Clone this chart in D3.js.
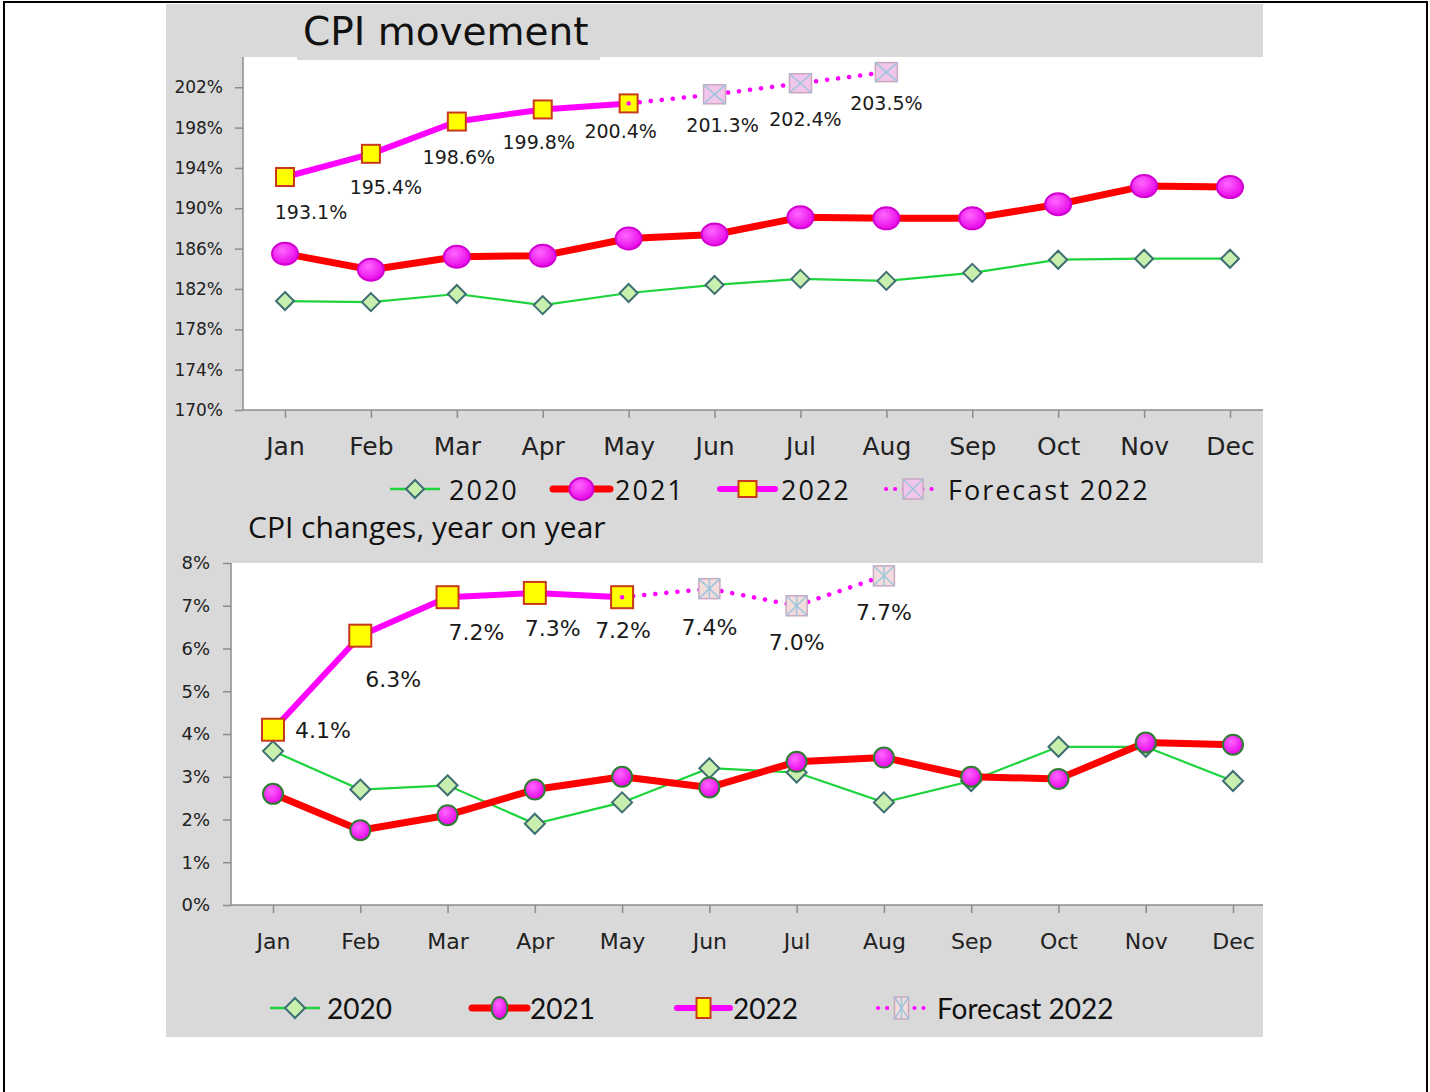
<!DOCTYPE html>
<html><head><meta charset="utf-8">
<script src="https://cdn.jsdelivr.net/npm/d3@7"></script>
<style>body{margin:0;background:#fff}svg{display:block}</style>
</head><body>
<svg id="c" width="1430" height="1092"></svg>
<script>
// ---- data ----
const months = ["Jan","Feb","Mar","Apr","May","Jun","Jul","Aug","Sep","Oct","Nov","Dec"];
const seriesNames = ["2020","2021","2022","Forecast 2022"];

const cpi2020 = [180.8,180.7,181.5,180.4,181.6,182.4,183.0,182.8,183.6,184.9,185.0,185.0];
const cpi2021 = [185.5,183.9,185.2,185.3,187.0,187.4,189.1,189.0,189.0,190.4,192.2,192.1];
const cpi2022 = [193.1,195.4,198.6,199.8,200.4,null,null,null,null,null,null,null];
const cpiForecast2022 = [null,null,null,null,200.4,201.3,202.4,203.5,null,null,null,null];
const cpiTicks = [170,174,178,182,186,190,194,198,202];

const yoy2020 = [3.6,2.7,2.8,1.9,2.4,3.2,3.1,2.4,2.9,3.7,3.7,2.9];
const yoy2021 = [2.6,1.75,2.1,2.7,3.0,2.75,3.35,3.45,3.0,2.95,3.8,3.75];
const yoy2022 = [4.1,6.3,7.2,7.3,7.2,null,null,null,null,null,null,null];
const yoyForecast2022 = [null,null,null,null,7.2,7.4,7.0,7.7,null,null,null,null];
const yoyTicks = [0,1,2,3,4,5,6,7,8];

// ---- layout (label offsets relative to points) ----
const cpiLabelOff = [[26,36],[15,35],[2,37],[-4,34],[-8,29],[8,32],[5,37],[0,32]];
const yoyLabelOff = [[50,2],[33,45],[29,37],[18,37],[1,35],[0,40],[0,38],[0,38]];

const svg = d3.select("#c");
const defs = svg.append("defs");
const g1 = defs.append("radialGradient").attr("id","magGrad").attr("cx","40%").attr("cy","35%").attr("r","70%");
g1.append("stop").attr("offset","0%").attr("stop-color","#ff66ff");
g1.append("stop").attr("offset","100%").attr("stop-color","#e600e6");

// page frame
svg.append("rect").attr("x",4).attr("y",2).attr("width",1423).attr("height",1100)
  .attr("fill","none").attr("stroke","#000").attr("stroke-width",2);

const GREY = "#d9d9d9";
svg.append("rect").attr("x",166).attr("y",4).attr("width",1097).attr("height",504).attr("fill",GREY);
svg.append("rect").attr("x",166).attr("y",508).attr("width",1097).attr("height",529).attr("fill",GREY);

function fmt(v){ return v.toFixed(1) + "%"; }

function diamond(sel, s, x, y){
  sel.append("path").attr("d",`M${x},${y-s}L${x+s},${y}L${x},${y+s}L${x-s},${y}Z`)
    .attr("fill","#c8efae").attr("stroke","#3d6e72").attr("stroke-width",2);
}
function ellipse(sel, rx, ry, x, y, stroke){
  sel.append("ellipse").attr("cx",x).attr("cy",y).attr("rx",rx).attr("ry",ry)
    .attr("fill","url(#magGrad)").attr("stroke",stroke).attr("stroke-width",stroke==="none"?0:2);
}
function square(sel, s, x, y){
  sel.append("rect").attr("x",x-s/2).attr("y",y-s/2).attr("width",s).attr("height",s)
    .attr("fill","#ffff00").attr("stroke","#c8381c").attr("stroke-width",2);
}
function fcMarker(sel, w, h, x, y, star, fill){
  const gg = sel.append("g");
  gg.append("rect").attr("x",x-w/2).attr("y",y-h/2).attr("width",w).attr("height",h)
    .attr("fill",fill).attr("stroke","#c8a8c0").attr("stroke-width",1.5);
  const c = "#9cc6de";
  gg.append("line").attr("x1",x-w/2).attr("y1",y-h/2).attr("x2",x+w/2).attr("y2",y+h/2).attr("stroke",c).attr("stroke-width",1.5);
  gg.append("line").attr("x1",x+w/2).attr("y1",y-h/2).attr("x2",x-w/2).attr("y2",y+h/2).attr("stroke",c).attr("stroke-width",1.5);
  if(star) gg.append("line").attr("x1",x).attr("y1",y-h/2).attr("x2",x).attr("y2",y+h/2).attr("stroke",c).attr("stroke-width",1.5);
}

function drawChart(o){
  const x = d3.scalePoint().domain(months).range([o.firstX,o.lastX]).padding(0);
  const y = d3.scaleLinear().domain(o.domain).range([o.bottom,o.top]);
  svg.append("rect").attr("x",o.left).attr("y",o.top).attr("width",o.right-o.left).attr("height",o.bottom-o.top).attr("fill","#fff");
  if(o.titleBox) svg.append("rect").attr("x",o.titleBox[0]).attr("y",o.titleBox[1]).attr("width",o.titleBox[2]).attr("height",o.titleBox[3]).attr("fill",GREY);
  svg.append("text").attr("x",o.titleX).attr("y",o.titleY).attr("font-family",o.titleFont).attr("font-size",o.titleSize)
    .attr("fill","#111").text(o.title);
  const ya = svg.append("g").attr("transform",`translate(${o.left},0)`)
    .call(d3.axisLeft(y).tickValues(o.ticks).tickSize(8).tickSizeOuter(0).tickFormat(d=>d+"%"));
  ya.select(".domain").attr("stroke","#8c8c8c").attr("stroke-width",1.5).attr("d",`M0,${o.top}V${o.bottom}`);
  ya.selectAll(".tick line").attr("stroke","#8c8c8c").attr("stroke-width",1.5);
  ya.selectAll(".tick text").attr("font-family","DejaVu Sans, Verdana").attr("font-size",o.yFont).attr("fill","#222").attr("x",-o.yGap);
  const xa = svg.append("g").attr("transform",`translate(0,${o.bottom})`)
    .call(d3.axisBottom(x).tickSize(8).tickSizeOuter(0));
  xa.select(".domain").attr("stroke","#8c8c8c").attr("stroke-width",1.5).attr("d",`M${o.left},0H${o.right}`);
  xa.selectAll(".tick line").attr("stroke","#8c8c8c").attr("stroke-width",1.5);
  xa.selectAll(".tick text").attr("font-family","DejaVu Sans, Verdana").attr("font-size",o.xFont).attr("fill","#222").attr("y",o.xLabelDy);

  const line = d3.line().defined(d=>d!=null).x((d,i)=>x(months[i])).y(d=>y(d));
  const pts = arr => arr.map((v,i)=>({v,m:months[i]})).filter(d=>d.v!=null);
  const L = svg.append("g");
  L.append("path").attr("d",line(o.s2020)).attr("fill","none").attr("stroke","#1ed43c").attr("stroke-width",2.2);
  L.append("path").attr("d",line(o.s2021)).attr("fill","none").attr("stroke","#ff0000").attr("stroke-width",7).attr("stroke-linejoin","round");
  L.append("path").attr("d",line(o.sFc)).attr("fill","none").attr("stroke","#ff00ff").attr("stroke-width",4.5)
    .attr("stroke-dasharray","0.1 11").attr("stroke-linecap","round");
  L.append("path").attr("d",line(o.s2022)).attr("fill","none").attr("stroke","#ff00ff").attr("stroke-width",6).attr("stroke-linejoin","round");

  const M = svg.append("g");
  pts(o.s2020).forEach(d=>diamond(M,o.dia,x(d.m),y(d.v)));
  pts(o.s2021).forEach(d=>ellipse(M,o.erx,o.ery,x(d.m),y(d.v),o.eStroke));
  const fcPts = pts(o.sFc).filter(d=>o.s2022[months.indexOf(d.m)]==null);
  fcPts.forEach(d=>fcMarker(M,o.fw,o.fh,x(d.m),y(d.v),o.star,o.fFill));
  pts(o.s2022).forEach(d=>square(M,o.sq,x(d.m),y(d.v)));
  const lastActual = pts(o.s2022).slice(-1)[0];
  M.append("circle").attr("cx",x(lastActual.m)).attr("cy",y(lastActual.v)).attr("r",2.2).attr("fill","#ff00ff");

  const labs = pts(o.s2022).concat(fcPts);
  labs.forEach((d,i)=>{
    svg.append("text").attr("x",x(d.m)+o.off[i][0]).attr("y",y(d.v)+o.off[i][1])
      .attr("text-anchor","middle").attr("dominant-baseline","middle")
      .attr("font-family","DejaVu Sans, Verdana").attr("font-size",o.labFont).attr("fill","#1a1a1a").text(fmt(d.v));
  });

  const lg = svg.append("g").attr("font-family",o.legFont).attr("font-size",o.legSize).attr("fill","#111")
    .attr("letter-spacing",o.legSpacing);
  const it = o.legend;
  const ly = o.legY;
  lg.append("line").attr("x1",it[0][0]).attr("x2",it[0][1]).attr("y1",ly).attr("y2",ly).attr("stroke","#1ed43c").attr("stroke-width",2.5);
  diamond(lg,o.dia,(it[0][0]+it[0][1])/2,ly);
  lg.append("line").attr("x1",it[1][0]).attr("x2",it[1][1]).attr("y1",ly).attr("y2",ly).attr("stroke","#ff0000").attr("stroke-width",7).attr("stroke-linecap","round");
  ellipse(lg,o.legErx,o.legEry,(it[1][0]+it[1][1])/2,ly,o.eStroke);
  lg.append("line").attr("x1",it[2][0]).attr("x2",it[2][1]).attr("y1",ly).attr("y2",ly).attr("stroke","#ff00ff").attr("stroke-width",6).attr("stroke-linecap","round");
  lg.append("rect").attr("x",(it[2][0]+it[2][1])/2-o.legSqW/2).attr("y",ly-o.legSqH/2).attr("width",o.legSqW).attr("height",o.legSqH)
    .attr("fill","#ffff00").attr("stroke","#c8381c").attr("stroke-width",2);
  lg.append("line").attr("x1",it[3][0]).attr("x2",it[3][1]).attr("y1",ly).attr("y2",ly).attr("stroke","#ff00ff").attr("stroke-width",4)
    .attr("stroke-dasharray","0.1 9").attr("stroke-linecap","round");
  fcMarker(lg,o.legFw,o.legFh,(it[3][0]+it[3][1])/2,ly,o.star,o.fFill);
  seriesNames.forEach((n,i)=>{
    lg.append("text").attr("x",it[i][2]).attr("y",ly).attr("dominant-baseline","central").text(n);
  });
}

drawChart({
  left:243,right:1263,top:57,bottom:410,firstX:285,lastX:1230,domain:[170,205],ticks:cpiTicks,
  title:"CPI movement",titleX:303,titleY:45,titleSize:39,titleFont:"DejaVu Sans, Verdana",titleBox:[297,4,303,56],
  yFont:17,yGap:20,xFont:25,xLabelDy:27,labFont:19,
  s2020:cpi2020,s2021:cpi2021,s2022:cpi2022,sFc:cpiForecast2022,
  dia:9,erx:13,ery:11,eStroke:"#d000d0",sq:18,fw:22,fh:19,star:false,fFill:"#f2c6ea",
  off:cpiLabelOff,
  legY:489,legFont:"Open Sans, Lato",legSize:27,legSpacing:2,
  legend:[[390,440,449],[553,610,615],[720,775,781],[886,940,948]],
  legErx:12,legEry:11,legSqW:18,legSqH:16,legFw:20,legFh:20
});

drawChart({
  left:231,right:1263,top:563,bottom:905,firstX:273,lastX:1233,domain:[0,8],ticks:yoyTicks,
  title:"CPI changes, year on year",titleX:248,titleY:538,titleSize:30,titleFont:"Open Sans, Lato",titleBox:null,
  yFont:18,yGap:21,xFont:22,xLabelDy:28,labFont:22,
  s2020:yoy2020,s2021:yoy2021,s2022:yoy2022,sFc:yoyForecast2022,
  dia:10,erx:10,ery:10,eStroke:"#2f7d32",sq:22,fw:21,fh:20,star:true,fFill:"#f2dcdc",
  off:yoyLabelOff,
  legY:1008,legFont:"Lato, Open Sans",legSize:28,legSpacing:0,
  legend:[[270,320,327],[472,527,530],[677,730,733],[878,925,937]],
  legErx:8,legEry:11,legSqW:14,legSqH:20,legFw:14,legFh:22
});
</script>
</body></html>
